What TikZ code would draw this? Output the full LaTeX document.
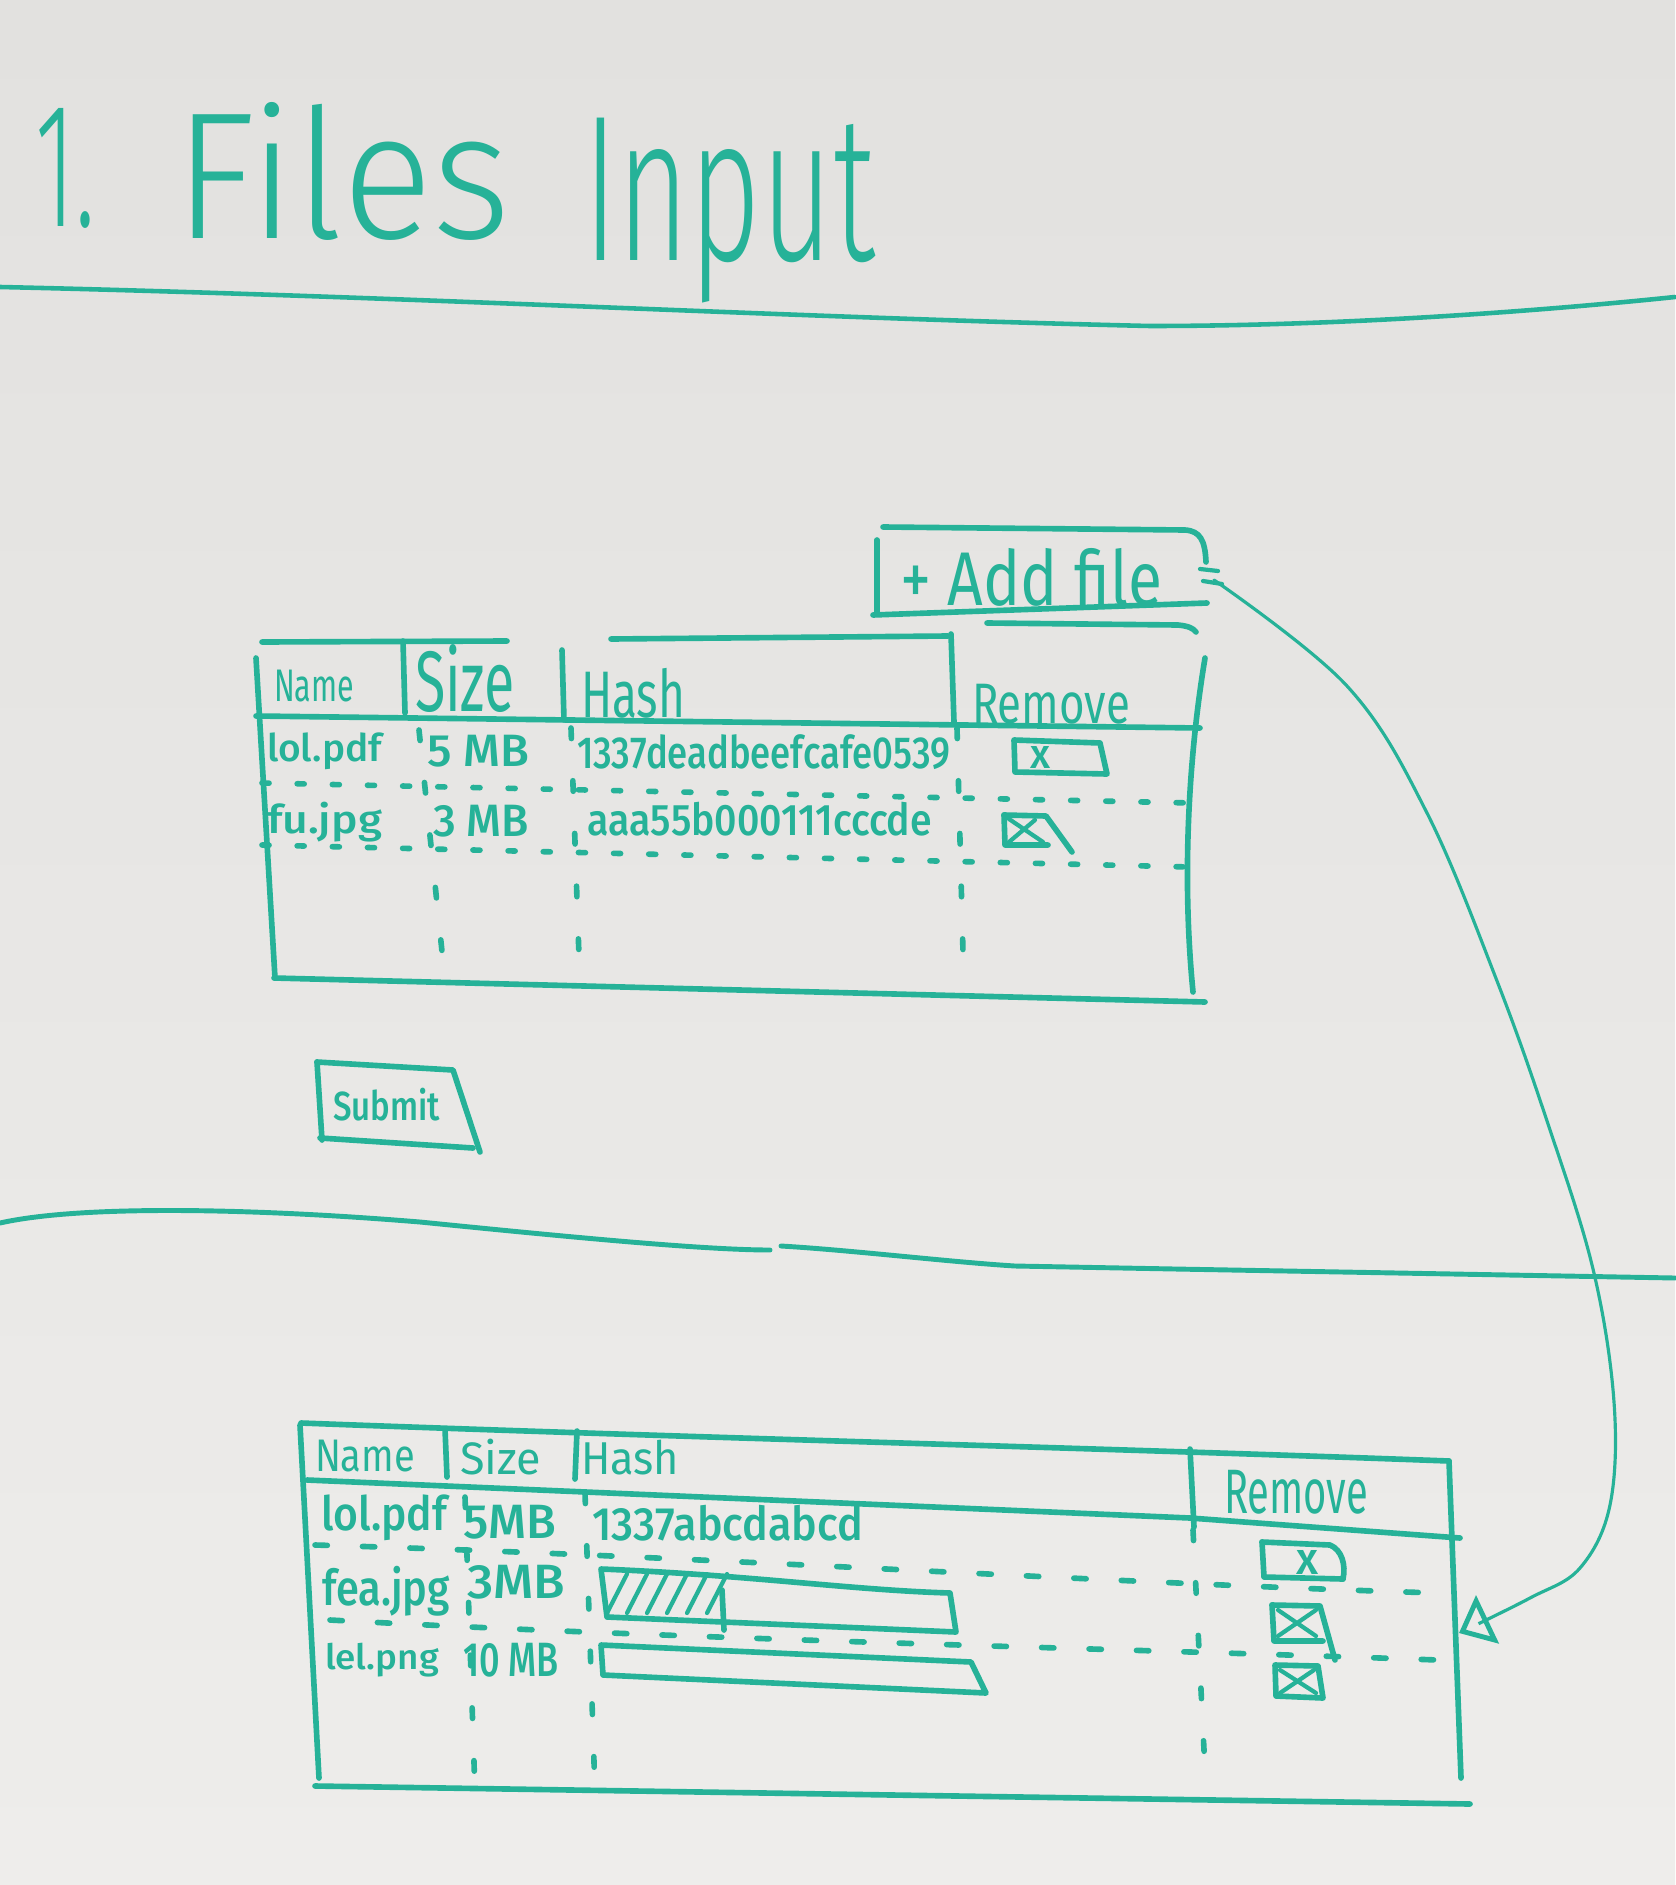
\documentclass[tikz,border=0pt]{standalone}
\usepackage{graphicx}
\usepackage{fontspec}
\setmainfont{Fira Sans}
\newfontfamily\thinhand{Fira Sans Light}
\newfontfamily\midhand{Fira Sans Medium}
\usetikzlibrary{arrows.meta}

\definecolor{ink}{RGB}{38,178,152}
\definecolor{boardtop}{RGB}{226,225,223}
\definecolor{boardbot}{RGB}{238,237,235}

% one drawing unit = 0.01cm
\newdimen\pxu \pxu=0.01cm
% squeeze a text into a box of w x h units
\newcommand{\fitbox}[3]{\resizebox*{#1\pxu}{#2\pxu}{#3}}

\tikzset{
  marker/.style={draw=ink, line width=1.6pt, line cap=round, line join=round},
  fine/.style={draw=ink, line width=1.2pt, line cap=round, line join=round},
  rowdots/.style={draw=ink, line width=1.6pt, line cap=round, dash pattern=on 2pt off 8pt},
  rowdash/.style={draw=ink, line width=1.6pt, line cap=round, dash pattern=on 3.5pt off 10pt},
  coldots/.style={draw=ink, line width=1.6pt, line cap=round, dash pattern=on 3pt off 12pt},
  txt/.style={anchor=north west, inner sep=0pt, outer sep=0pt, text=ink},
  connector/.style={draw=ink, line width=0.9pt, line cap=round},
}

\begin{document}
\begin{tikzpicture}[x=0.01cm, y=-0.01cm]
\useasboundingbox (0,0) rectangle (1675,1885);
\shade[top color=boardtop, bottom color=boardbot] (0,0) rectangle (1675,1885);

% ---------- heading ----------
\node[txt] (t1) at (36,108) {\fitbox{60}{120}{\thinhand 1.}};
\node[txt] (t2) at (174,102) {\fitbox{337}{138}{\thinhand Files}};
\node[txt] (t3) at (583,118) {\fitbox{292}{185}{\thinhand Input}};

% ---------- section rules ----------
\draw[marker, line width=1.3pt] (0,287) .. controls (400,296) and (800,318) .. (1150,326)
      .. controls (1350,326) and (1550,310) .. (1675,297);
\draw[marker, line width=1.4pt] (0,1223) .. controls (80,1205) and (250,1208) .. (420,1222)
      .. controls (550,1235) and (700,1250) .. (770,1250);
\draw[marker, line width=1.4pt] (781,1246) .. controls (850,1250) and (950,1262) .. (1015,1266)
      -- (1175,1269) -- (1675,1278);

% ---------- add file button ----------
\draw[marker] (883,527) -- (1185,530) .. controls (1200,531) and (1205,540) .. (1206,562);
\draw[marker] (877,540) -- (877,613);
\draw[marker] (873,615) -- (1207,603);
\draw[marker] (987,623) -- (1178,625) .. controls (1188,626) and (1193,628) .. (1196,632);
\draw[fine] (1200,569) -- (1218,571) (1203,581) -- (1222,584);
\node[txt] (addfile) at (900,548) {\fitbox{262}{58}{+ Add file}};
\coordinate (addhandle) at (1214,580);

% ---------- upper table ----------
\draw[marker] (262,642) -- (507,641);
\draw[marker] (611,639) -- (948,636);
\draw[marker] (256,658) -- (275,978);
\draw[marker] (256,716) -- (1200,728);
\draw[marker] (403,641) -- (405,713);
\draw[marker] (562,650) -- (564,720);
\draw[marker] (951,634) -- (954,722);
\draw[marker] (1205,658) .. controls (1188,760) and (1182,880) .. (1193,992);
\draw[marker] (274,978) -- (1205,1002);

\draw[coldots] (419,730) -- (446,990);
\draw[coldots] (571,728) -- (580,985);
\draw[coldots] (957,728) -- (964,990);
\draw[rowdots] (262,783) -- (1192,803);
\draw[rowdots] (262,845) -- (1190,867);

\node[txt] (h1name) at (274,670) {\fitbox{80}{32}{Name}};
\node[txt] (h1size) at (415,645) {\fitbox{100}{68}{Size}};
\node[txt] (h1hash) at (581,668) {\fitbox{104}{50}{Hash}};
\node[txt] (h1rem) at (972,684) {\fitbox{158}{40}{Remove}};
\node[txt] (r1name) at (267,733) {\fitbox{115}{37}{\midhand lol.pdf}};
\node[txt] (r1size) at (427,735) {\fitbox{102}{32}{\midhand 5 MB}};
\node[txt] (r1hash) at (577,735) {\fitbox{373}{35}{\midhand 1337deadbeefcafe0539}};
\node[txt] (r2name) at (267,802) {\fitbox{115}{40}{\midhand fu.jpg}};
\node[txt] (r2size) at (433,805) {\fitbox{96}{32}{\midhand 3 MB}};
\node[txt] (r2hash) at (587,802) {\fitbox{345}{34}{\midhand aaa55b000111cccde}};

% remove buttons, upper table
\draw[marker] (1014,740) -- (1100,743) -- (1107,774) -- (1015,772) -- cycle;
\node[txt] (rmx1) at (1030,746) {\fitbox{20}{22}{\midhand x}};
\draw[marker] (1004,815) -- (1046,816) -- (1072,852);
\draw[marker] (1004,815) -- (1005,845) -- (1048,845);
\draw[fine] (1009,819) -- (1043,842) (1009,842) -- (1035,820);

% ---------- submit button ----------
\draw[marker] (317,1062) -- (322,1140);
\draw[marker] (317,1062) -- (453,1070) -- (480,1152);
\draw[marker] (320,1138) -- (473,1148);
\node[txt] (submit) at (333,1088) {\fitbox{107}{33}{\midhand Submit}};

% ---------- lower table ----------
\draw[marker] (301,1423) .. controls (700,1438) and (1100,1448) .. (1449,1461);
\draw[marker] (300,1425) -- (319,1778);
\draw[marker] (307,1480) -- (1190,1518) -- (1460,1538);
\draw[marker] (445,1429) -- (447,1477);
\draw[marker] (577,1431) -- (575,1479);
\draw[marker] (1190,1449) -- (1194,1527);
\draw[marker] (1449,1461) -- (1461,1778);
\draw[marker] (315,1786) -- (1470,1804);
\coordinate (dropzone) at (1459,1633);

\draw[coldots] (465,1497) -- (475,1792);
\draw[coldots] (585,1493) -- (595,1792);
\draw[coldots] (1193,1530) -- (1206,1790);
\draw[rowdash] (315,1545) .. controls (700,1556) and (1100,1583) .. (1438,1593);
\draw[rowdash] (330,1620) .. controls (700,1640) and (1100,1648) .. (1438,1660);

\node[txt] (h2name) at (315,1440) {\fitbox{100}{32}{Name}};
\node[txt] (h2size) at (460,1439) {\fitbox{81}{36}{Size}};
\node[txt] (h2hash) at (581,1440) {\fitbox{98}{35}{Hash}};
\node[txt] (h2rem) at (1224,1470) {\fitbox{144}{44}{Remove}};
\node[txt] (s1name) at (321,1495) {\fitbox{126}{46}{\midhand lol.pdf}};
\node[txt] (s1size) at (463,1505) {\fitbox{93}{34}{\midhand 5MB}};
\node[txt] (s1hash) at (592,1505) {\fitbox{271}{36}{\midhand 1337abcdabcd}};
\node[txt] (s2name) at (322,1566) {\fitbox{128}{50}{\midhand fea.jpg}};
\node[txt] (s2size) at (467,1565) {\fitbox{98}{34}{\midhand 3MB}};
\node[txt] (s3name) at (325,1643) {\fitbox{114}{34}{\midhand lel.png}};
\node[txt] (s3size) at (463,1643) {\fitbox{96}{34}{\midhand 10 MB}};

% upload progress bars
\draw[marker] (601,1569) .. controls (750,1575) and (850,1590) .. (950,1593)
      -- (956,1632) -- (607,1617) -- cycle;
\foreach \i in {0,...,5}
  \draw[fine] ({607+20*\i},1613) -- ({627+20*\i},1574);
\draw[marker] (722,1590) -- (724,1630);
\draw[marker] (601,1645) -- (971,1662) -- (986,1693) -- (603,1675) -- cycle;

% remove buttons, lower table
\draw[marker] (1262,1542) -- (1264,1577) -- (1343,1579);
\draw[marker] (1262,1542) -- (1330,1545) .. controls (1342,1550) and (1346,1565) .. (1343,1579);
\node[txt] (rmx2) at (1296,1550) {\fitbox{22}{24}{\midhand x}};
\draw[marker] (1272,1605) -- (1274,1641) -- (1323,1641);
\draw[marker] (1272,1605) -- (1320,1606) -- (1335,1660);
\draw[fine] (1278,1610) -- (1316,1636) (1278,1636) -- (1316,1610);
\draw[marker] (1275,1665) -- (1276,1696) -- (1323,1698) -- (1318,1666) -- cycle;
\draw[fine] (1280,1670) -- (1316,1693) (1280,1693) -- (1314,1670);

% ---------- add file → new row ----------
\draw[connector, -{Triangle[open, length=9pt, width=15pt, line width=1.4pt]}]
  plot[smooth, tension=0.6] coordinates {(addhandle) (1347,686) (1427,813) (1497,981)
    (1547,1121) (1593,1269) (1614,1402) (1610,1505) (1580,1568) (1530,1598) (dropzone)};

\end{tikzpicture}
\end{document}
